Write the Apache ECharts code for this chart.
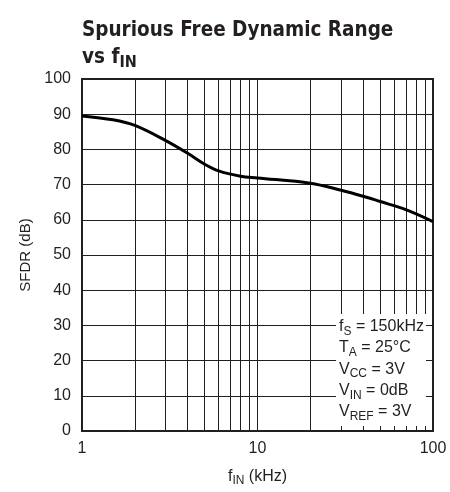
<!DOCTYPE html>
<html>
<head>
<meta charset="utf-8">
<script src="https://cdn.jsdelivr.net/npm/echarts@6/dist/echarts.min.js"></script>
<style>
  html, body { margin: 0; padding: 0; background: #fff; }
  #chart { width: 450px; height: 492px; }
</style>
</head>
<body>
<div id="chart"></div>
<script>
// SFDR vs input frequency
var freqKHz = [1, 1.5, 2, 3, 4, 5, 6, 8, 10, 20, 30, 40, 50, 70, 100];
var sfdrDb = [89.5, 88.4, 86.8, 82.5, 78.9, 75.8, 73.9, 72.4, 71.9, 70.4, 68.4, 66.7, 65.2, 62.9, 59.5];
var minorFreqs = [2, 3, 4, 5, 6, 7, 8, 9, 20, 30, 40, 50, 60, 70, 80, 90];
var yTicks = [0, 10, 20, 30, 40, 50, 60, 70, 80, 90, 100];
var notes = [
  "f{sub|S} = 150kHz",
  "T{sub|A} = 25°C",
  "V{sub|CC} = 3V",
  "V{sub|IN} = 0dB",
  "V{sub|REF} = 3V"
];

var TITLE_FONT = '"DejaVu Sans Condensed", "Liberation Sans", sans-serif';
var FONT = '"Liberation Sans", Arial, sans-serif';
var INK = "#231f20";

var chart = echarts.init(document.getElementById("chart"));

var points = freqKHz.map(function (f, i) { return [f, sfdrDb[i]]; });

chart.setOption({
  animation: false,
  backgroundColor: "#fff",
  title: {
    left: 77,
    top: 12,
    text: "Spurious Free Dynamic Range\nvs f{sub|IN}",
    textStyle: {
      fontFamily: TITLE_FONT,
      fontWeight: "bold",
      fontSize: 20.5,
      color: INK,
      lineHeight: 27,
      rich: {
        sub: { fontFamily: TITLE_FONT, fontWeight: "bold", fontSize: 16, lineHeight: 16, verticalAlign: "bottom", color: INK }
      }
    }
  },
  grid: { left: 82, right: 17, top: 79, bottom: 60, show: true, borderColor: INK, borderWidth: 2 },
  xAxis: {
    type: "log",
    logBase: 10,
    min: 1,
    max: 100,
    name: "f{sub|IN} (kHz)",
    nameLocation: "middle",
    nameGap: 36,
    nameTextStyle: {
      fontFamily: FONT, fontSize: 16, color: INK, lineHeight: 20,
      rich: { sub: { fontFamily: FONT, fontSize: 12, lineHeight: 12, verticalAlign: "bottom", color: INK } }
    },
    axisLine: { show: true, onZero: false, lineStyle: { color: INK, width: 2 } },
    axisTick: { show: false },
    axisLabel: { fontFamily: FONT, fontSize: 16, color: INK, margin: 10 },
    splitLine: { show: true, lineStyle: { color: INK, width: 1 } }
  },
  yAxis: {
    type: "value",
    min: yTicks[0],
    max: yTicks[yTicks.length - 1],
    interval: 10,
    name: "SFDR (dB)",
    nameLocation: "middle",
    nameGap: 45,
    nameTextStyle: { fontFamily: FONT, fontSize: 15, color: INK },
    axisLine: { show: true, lineStyle: { color: INK, width: 2 } },
    axisTick: { show: false },
    axisLabel: { fontFamily: FONT, fontSize: 16, color: INK, margin: 11 },
    splitLine: { show: true, lineStyle: { color: INK, width: 1 } }
  },
  series: [
    {
      type: "line",
      data: points,
      smooth: 0.35,
      showSymbol: false,
      lineStyle: { color: "#000", width: 3 },
      z: 5,
      markLine: {
        silent: true,
        symbol: ["none", "none"],
        label: { show: false },
        lineStyle: { color: INK, width: 1, type: "solid" },
        data: minorFreqs.map(function (f) { return { xAxis: f }; })
      }
    }
  ],
  graphic: [
    {
      type: "rect",
      left: 336, top: 314,
      shape: { width: 90, height: 112 },
      style: { fill: "#fff" },
      z: 20
    },
    {
      type: "text",
      left: 339, top: 316,
      style: {
        text: notes.join("\n"),
        fontFamily: FONT,
        fontSize: 16,
        lineHeight: 21.3,
        fill: INK,
        rich: {
          sub: { fontFamily: FONT, fontSize: 12, lineHeight: 12, verticalAlign: "bottom", fill: INK }
        }
      },
      z: 21
    }
  ]
});
</script>
</body>
</html>
